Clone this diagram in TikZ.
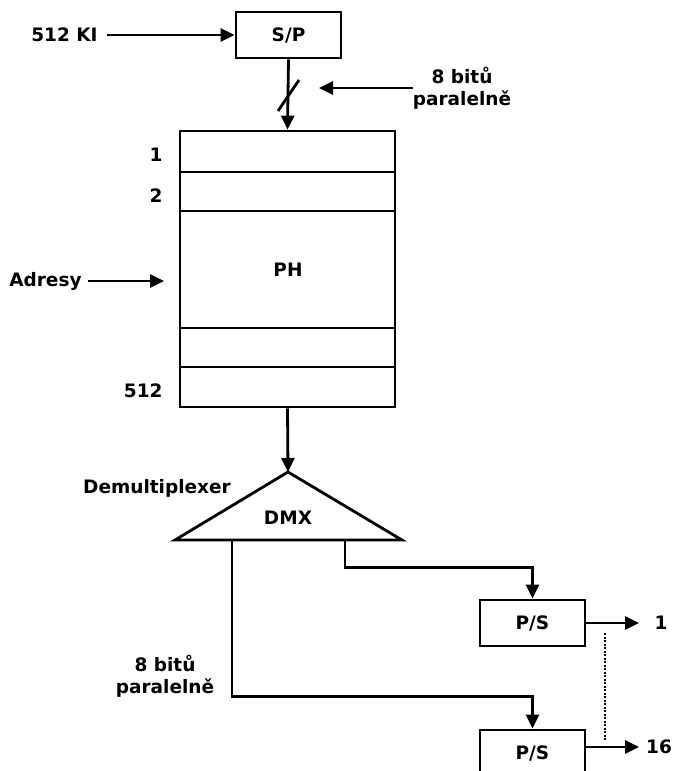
\documentclass[tikz,border=0pt]{standalone}
\usepackage{fontspec}
\setmainfont{DejaVu Sans}
\usetikzlibrary{arrows.meta}
\begin{document}
\begin{tikzpicture}[x=1pt,y=-1pt,
  line width=2.8pt,
  every node/.style={font=\bfseries\fontsize{18.5}{22}\selectfont},
  box/.style={draw,line width=2.8pt,inner sep=0pt,minimum width=105pt,minimum height=46pt},
  lbl/.style={inner sep=0pt},
  arr/.style={-{Triangle[length=14pt,width=13pt]}}]
\useasboundingbox (0,0) rectangle (674,771);
\clip (0,0) rectangle (674,771);

% S/P block and input
\node[box] (sp) at (288.5,35) {S/P};
\node[lbl,anchor=east] (ki) at (99,35) {512 KI};
\draw[arr] ([xshift=8pt]ki.east) -- (sp.west);

% memory PH
\node[draw,inner sep=0pt,minimum width=215pt,minimum height=276pt] (ph) at (287.5,269) {};
\node[lbl] (phl) at (288,270) {PH};
\foreach \yy in {172,211,328,367}
  \draw (ph.west |- 0,\yy) -- (ph.east |- 0,\yy);
\node[lbl,anchor=east] (a1) at (164,155) {1};
\node[lbl,anchor=east] (a2) at (164,196) {2};
\node[lbl,anchor=east] (a512) at (164,391) {512};

% S/P -> PH with bus slash
\draw[arr] (sp.south) -- (ph.north);
\draw (278,111) -- (299,80);
\node[lbl,align=center] (bits1) at (462,88) {8 bitů\\paralelně};
\coordinate (bt1) at (319,88);
\draw[arr] (413,88) -- (bt1);

% addresses
\node[lbl,anchor=east] (adr) at (83,281) {Adresy};
\coordinate (adrtip) at (164,281);
\draw[arr] ([xshift=5pt]adr.east) -- (adrtip);

% demultiplexer
\coordinate (apex) at (288,472);
\coordinate (bl) at (175,540);
\coordinate (br) at (402,540);
\draw[line join=miter] (apex) -- (br) -- (bl) -- cycle;
\node[lbl] (dmx) at (288,518) {DMX};
\node[lbl] (demux) at (157,488) {Demultiplexer};
\draw[arr] (ph.south) -- (apex);

% P/S blocks
\node[box] (ps1) at (532.5,623) {P/S};
\node[box] (ps2) at (532.5,753) {P/S};
\coordinate (o1) at (232,540);
\coordinate (o2) at (345,540);
\draw[arr] (o2) |- ([yshift=31pt]ps1.north) -- (ps1.north);
\draw[arr] (o1) |- ([yshift=32pt]ps2.north) -- (ps2.north);
\node[lbl,align=center] (bits2) at (165,676) {8 bitů\\paralelně};

% outputs
\coordinate (out1) at (639,623);
\coordinate (out16) at (639,747);
\draw[arr] (ps1.east) -- (out1);
\draw[arr] (ps2.east |- out16) -- (out16);
\node[lbl] (n1) at (661,623) {1};
\node[lbl] (n16) at (659,747) {16};
\draw[line width=2.2pt,dash pattern=on 2pt off 1.5pt] (605,633) -- (605,741);
\end{tikzpicture}
\end{document}
